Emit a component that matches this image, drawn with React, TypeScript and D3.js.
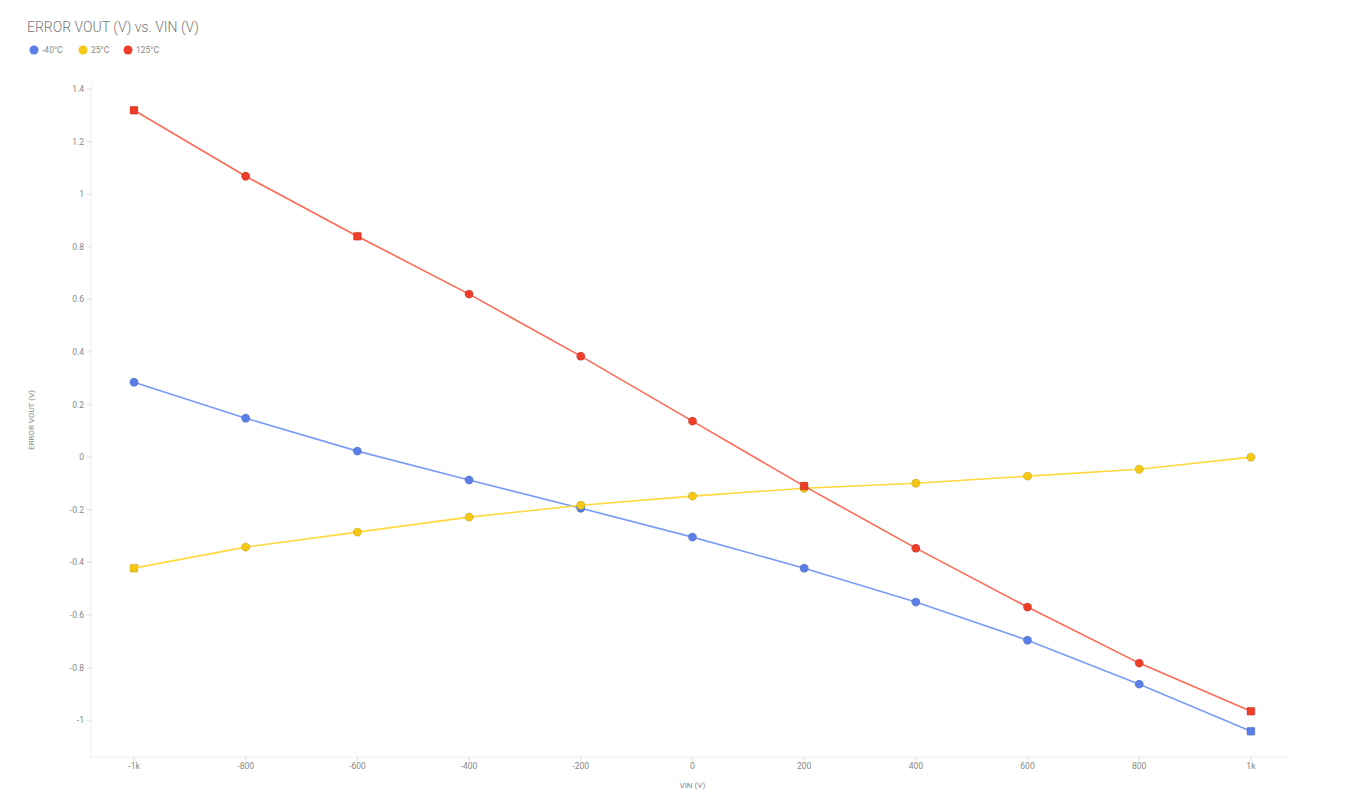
import React from "react";
import * as d3 from "d3";

const vin = [-1000, -800, -600, -400, -200, 0, 200, 400, 600, 800, 1000];
const seriesNames = ["-40°C", "25°C", "125°C"];
const seriesColors = ["#5b7fe6", "#f5c816", "#ee3d28"];
const lineColors = ["#7b9cf6", "#ffd93d", "#ff6a55"];
const valuesM40 = [0.285, 0.148, 0.023, -0.087, -0.194, -0.304, -0.422, -0.551, -0.696, -0.863, -1.042];
const values25 = [-0.422, -0.342, -0.285, -0.228, -0.183, -0.148, -0.118, -0.099, -0.072, -0.046, 0.0];
const values125 = [1.319, 1.068, 0.840, 0.620, 0.384, 0.137, -0.110, -0.346, -0.570, -0.783, -0.966];
const squareIdx = [[10], [0], [0, 2, 6, 10]];
const yTicks = [-1, -0.8, -0.6, -0.4, -0.2, 0, 0.2, 0.4, 0.6, 0.8, 1, 1.2, 1.4];
const xTicks = [-1000, -800, -600, -400, -200, 0, 200, 400, 600, 800, 1000];

const W = 1353, H = 801;
const left = 91, right = 1290, top = 85, bottom = 757;

export default function App() {
  const x = d3.scaleLinear().domain([-1077, 1070]).range([left, right]);
  const y = d3.scaleLinear().domain([-1.14, 1.415]).range([bottom, top]);
  const all = [valuesM40, values25, values125];
  const line = d3.line<number>().x((_, i) => x(vin[i])).y((d) => y(d));
  const fmtX = (v: number) => (Math.abs(v) === 1000 ? (v < 0 ? "-1k" : "1k") : String(v));
  const fmtY = (v: number) => String(+v.toFixed(1));
  const font = "Roboto, 'Noto Sans', sans-serif";
  const legendXs = [34, 83, 128];
  return (
    <svg width={W} height={H} style={{ position: "absolute", left: 0, top: 0, fontFamily: font }}>
      <rect width={W} height={H} fill="#fff" />
      <text x={27} y={32} fontSize={14} fill="#777" fontWeight={300}>ERROR VOUT (V) vs. VIN (V)</text>
      {seriesNames.map((n, i) => {
        const lx = legendXs[i];
        return (
          <g key={n}>
            <circle cx={lx} cy={50} r={4.5} fill={seriesColors[i]} />
            <text x={lx + 8} y={53} fontSize={8.5} fill="#888">{n}</text>
          </g>
        );
      })}
      <line x1={left} x2={left} y1={top} y2={bottom} stroke="#eee" />
      <line x1={left} x2={right} y1={bottom} y2={bottom} stroke="#eee" />
      {yTicks.map((t) => (
        <g key={t}>
          <line x1={left - 4} x2={left} y1={y(t)} y2={y(t)} stroke="#ddd" />
          <text x={left - 7} y={y(t) + 3} fontSize={8.5} fill="#888" textAnchor="end">{fmtY(t)}</text>
        </g>
      ))}
      {xTicks.map((t) => (
        <g key={t}>
          <line x1={x(t)} x2={x(t)} y1={bottom} y2={bottom + 4} stroke="#ddd" />
          <text x={x(t)} y={bottom + 12} fontSize={8.5} fill="#888" textAnchor="middle">{fmtX(t)}</text>
        </g>
      ))}
      <text x={x(0)} y={788} fontSize={8} fill="#888" textAnchor="middle">VIN (V)</text>
      <text transform={`translate(34, 420) rotate(-90)`} fontSize={8} fill="#888" textAnchor="middle">ERROR VOUT (V)</text>
      {all.map((vals, si) => (
        <g key={si}>
          <path d={line(vals) || ""} fill="none" stroke={lineColors[si]} strokeWidth={1.6} />
          {vals.map((v, i) =>
            squareIdx[si].includes(i) ? (
              <rect key={i} x={x(vin[i]) - 4} y={y(v) - 4} width={8} height={8} rx={1} fill={seriesColors[si]} stroke="rgba(0,0,0,0.2)" strokeWidth={0.6} />
            ) : (
              <circle key={i} cx={x(vin[i])} cy={y(v)} r={4.2} fill={seriesColors[si]} stroke="rgba(0,0,0,0.2)" strokeWidth={0.6} />
            )
          )}
        </g>
      ))}
    </svg>
  );
}
